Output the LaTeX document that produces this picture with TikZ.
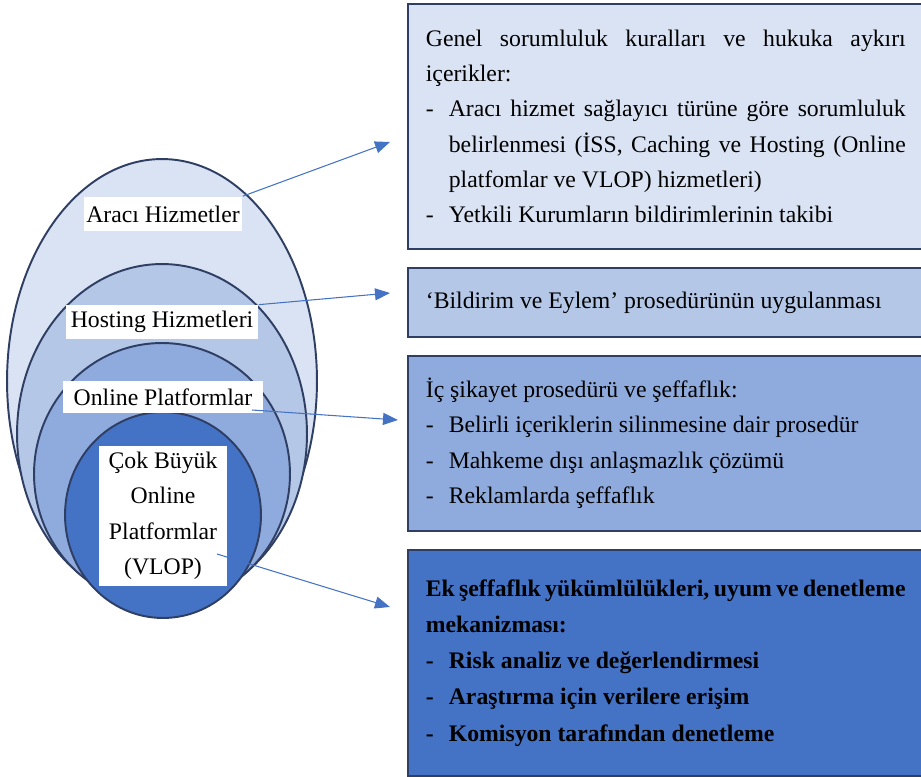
\documentclass[tikz,border=0pt]{standalone}
\usepackage{fontspec}
\setmainfont{Liberation Serif}
\usepackage{tikz}
\usetikzlibrary{shapes.geometric}
\usetikzlibrary{positioning, arrows.meta}
\definecolor{pale}{HTML}{DAE3F3}
\definecolor{light}{HTML}{B4C7E7}
\definecolor{mid}{HTML}{8FAADC}
\definecolor{deep}{HTML}{4472C4}
\definecolor{rim}{HTML}{2F3E63}
\newcommand{\itm}[1]{\par\hangindent=0.46cm\hangafter=1\noindent\makebox[0.46cm][l]{-}#1}

\begin{document}
\begin{tikzpicture}[x=0.02cm, y=-0.02cm,
    layer/.style={ellipse, draw=rim, line width=1.1pt, inner sep=0pt},
    tag/.style={fill=white, inner sep=0pt, align=center, font=\fontsize{13.5}{20.2}\selectfont},
    panel/.style={draw=rim, line width=1pt, anchor=north west, text width=9.6cm, inner xsep=0.36cm, align=justify, font=\fontsize{13.5}{20.1}\selectfont},
    link/.style={draw=deep, line width=0.6pt, -{Triangle[length=0.3cm, width=0.24cm]}}]
    \useasboundingbox (0,0) rectangle (921,777);

    % Nested service layers
    \node[layer, fill=pale, minimum width=6.2cm, minimum height=8.88cm] (intermediary) at (162,381) {};
    \node[layer, fill=light, minimum width=5.8cm, minimum height=6.8cm] (hosting) at (162,434) {};
    \node[layer, fill=mid, minimum width=5.12cm, minimum height=5.24cm] (online) at (162,474) {};
    \node[layer, fill=deep, minimum width=3.92cm, minimum height=4.12cm] (vlop) at (163,515) {};

    % Layer labels
    \node[tag, minimum width=3.18cm, minimum height=0.7cm] (lblintermediary) at (163,214) {Aracı Hizmetler};
    \node[tag, minimum width=3.86cm, minimum height=0.68cm] (lblhosting) at (162,322) {Hosting Hizmetleri};
    \node[tag, minimum width=4.02cm, minimum height=0.66cm] (lblonline) at (163,397) {Online Platformlar};
    \node[tag, minimum width=2.58cm, minimum height=2.8cm] (lblvlop) at (163,516) {Çok Büyük\\Online\\Platformlar\\(VLOP)};

    % Obligation panels
    \node[panel, fill=pale, minimum height=4.9cm] (general) at (407,3) {%
        Genel sorumluluk kuralları ve hukuka aykırı\linebreak içerikler:
        \itm{Aracı hizmet sağlayıcı türüne göre sorumluluk\linebreak belirlenmesi (İSS, Caching ve Hosting (Online\linebreak platfomlar ve VLOP) hizmetleri)}
        \itm{Yetkili Kurumların bildirimlerinin takibi}};
    \node[panel, fill=light, minimum height=1.38cm] (notice) at (407,267) {‘Bildirim ve Eylem’ prosedürünün uygulanması};
    \node[panel, fill=mid, minimum height=3.5cm] (complaint) at (407,355) {%
        İç şikayet prosedürü ve şeffaflık:
        \itm{Belirli içeriklerin silinmesine dair prosedür}
        \itm{Mahkeme dışı anlaşmazlık çözümü}
        \itm{Reklamlarda şeffaflık}};
    \node[panel, fill=deep, minimum height=4.52cm, font=\fontsize{13.5}{20.6}\selectfont\bfseries] (audit) at (407,549) {%
        Ek şeffaflık yükümlülükleri, uyum ve denetleme\linebreak mekanizması:
        \itm{Risk analiz ve değerlendirmesi}
        \itm{Araştırma için verilere erişim}
        \itm{Komisyon tarafından denetleme}};

    % Arrow ends
    \coordinate (tip1) at (390,142);
    \coordinate (tip2) at (390,293);
    \coordinate (from3) at (252,410);
    \coordinate (tip3) at (398,420);
    \coordinate (from4) at (217,554);
    \coordinate (tip4) at (390,607);

    % Connections
    \draw[link] (lblintermediary.north east) -- (tip1);
    \draw[link] (lblhosting.north east) -- (tip2);
    \draw[link] (from3) -- (tip3);
    \draw[link] (from4) -- (tip4);
\end{tikzpicture}
\end{document}
